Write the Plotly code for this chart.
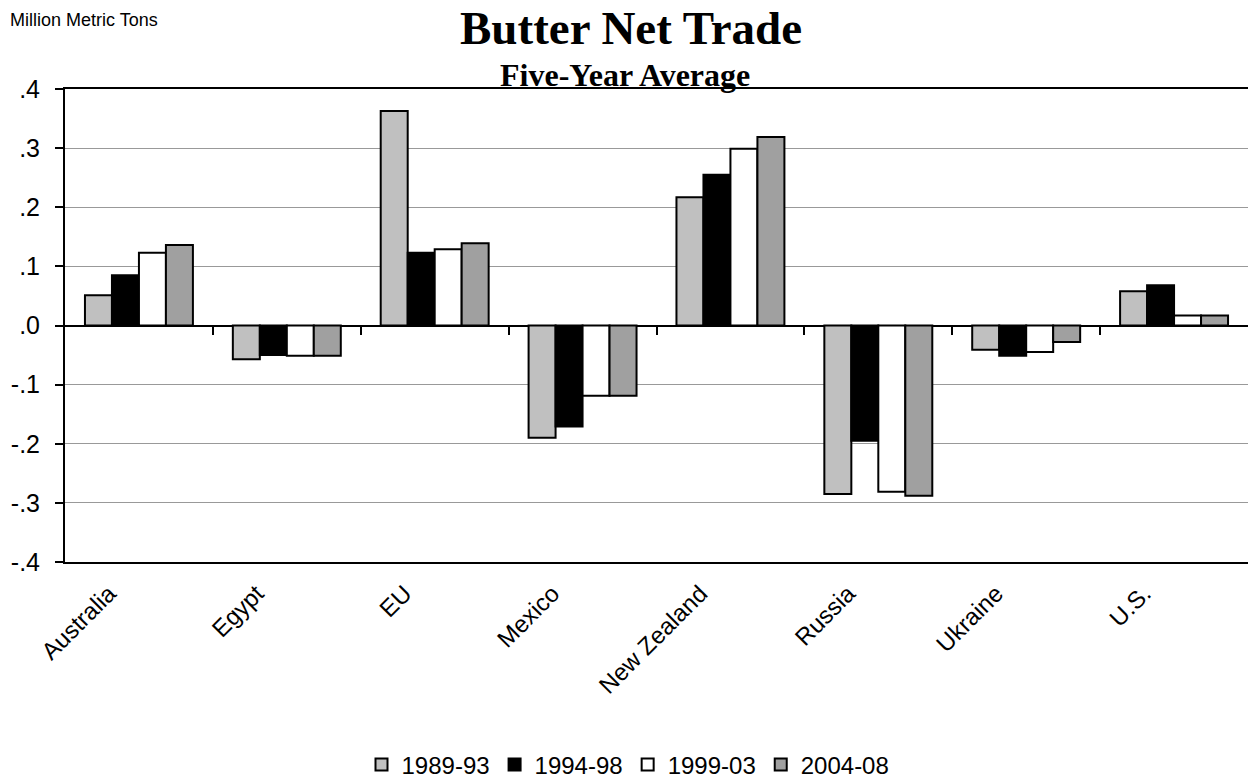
import plotly.graph_objects as go

countries = ["Australia", "Egypt", "EU", "Mexico", "New Zealand", "Russia", "Ukraine", "U.S."]
series_names = ["1989-93", "1994-98", "1999-03", "2004-08"]
v_1989_93 = [0.051, -0.057, 0.363, -0.190, 0.217, -0.285, -0.041, 0.058]
v_1994_98 = [0.085, -0.050, 0.123, -0.171, 0.255, -0.195, -0.051, 0.068]
v_1999_03 = [0.123, -0.051, 0.129, -0.119, 0.299, -0.281, -0.045, 0.017]
v_2004_08 = [0.136, -0.051, 0.139, -0.119, 0.319, -0.288, -0.028, 0.017]
y_tickvals = [0.4, 0.3, 0.2, 0.1, 0.0, -0.1, -0.2, -0.3, -0.4]
y_ticktext = [".4", ".3", ".2", ".1", ".0", "-.1", "-.2", "-.3", "-.4"]
boundary_ticks = [0.5, 1.5, 2.5, 3.5, 4.5, 5.5, 6.5]

colors = ["#C0C0C0", "#000000", "#FFFFFF", "#A0A0A0"]
all_values = [v_1989_93, v_1994_98, v_1999_03, v_2004_08]

W, H = 1258, 784
ML, MR, MT, MB = 65, 10, 89, 222
plot_w = W - ML - MR
plot_h = H - MT - MB

fig = go.Figure()
for name, vals, col in zip(series_names, all_values, colors):
    fig.add_trace(go.Bar(
        x=countries, y=vals, name=name,
        marker=dict(color=col, line=dict(color="#000000", width=2)),
    ))

# dummy trace on xaxis2 so the category-boundary tick axis renders
fig.add_trace(go.Scatter(x=[0], y=[0], xaxis="x2", mode="markers",
                         marker=dict(opacity=0), showlegend=False, hoverinfo="skip"))

fig.update_layout(
    width=W, height=H,
    margin=dict(l=ML, r=MR, t=MT, b=MB, autoexpand=False),
    paper_bgcolor="white", plot_bgcolor="white",
    barmode="group", bargap=0.27, bargroupgap=0,
    font=dict(family="Liberation Sans, Arial, sans-serif", color="black"),
    showlegend=True,
    legend=dict(orientation="h", x=(628 - ML) / plot_w, xanchor="center",
                y=-(765 - (H - MB)) / plot_h, yanchor="middle",
                font=dict(size=24, family="Liberation Sans, Arial, sans-serif"),
                itemwidth=30, tracegroupgap=0),
    xaxis=dict(
        type="category", categoryarray=countries, range=[-0.5, 7.5],
        showline=True, linecolor="black", linewidth=2, mirror=True,
        ticks="", tickangle=-45, tickfont=dict(size=24),
        ticklabelshift=-30, ticklabelstandoff=6,
        showgrid=False, zeroline=False,
    ),
    xaxis2=dict(
        overlaying="x", anchor="free", position=0.5, range=[-0.5, 7.5],
        tickvals=boundary_ticks, ticks="outside", ticklen=8, tickwidth=2, tickcolor="black",
        showticklabels=False, showline=False, showgrid=False, zeroline=False,
    ),
    yaxis=dict(
        range=[-0.4, 0.4], tickvals=y_tickvals, ticktext=y_ticktext,
        showline=True, linecolor="black", linewidth=2,
        ticks="outside", ticklen=8, tickwidth=2, tickcolor="black",
        tickfont=dict(size=25), ticklabelstandoff=10,
        showgrid=True, gridcolor="#999999", gridwidth=1,
        zeroline=True, zerolinecolor="black", zerolinewidth=2,
    ),
    annotations=[
        dict(text="<b>Butter Net Trade</b>", xref="paper", yref="paper",
             x=(631 - ML) / plot_w, y=1 + (MT - 28) / plot_h, yanchor="middle",
             showarrow=False, font=dict(family="Liberation Serif, Times New Roman, serif", size=47)),
        dict(text="<b>Five-Year Average</b>", xref="paper", yref="paper",
             x=(625 - ML) / plot_w, y=1 + (MT - 75) / plot_h, yanchor="middle",
             showarrow=False, font=dict(family="Liberation Serif, Times New Roman, serif", size=32)),
        dict(text="Million Metric Tons", xref="paper", yref="paper",
             x=-(ML - 8) / plot_w, xanchor="left", y=1 + (MT - 20) / plot_h, yanchor="middle",
             showarrow=False, font=dict(size=18)),
    ],
)

fig.write_html("out.html", config={"displayModeBar": False},
               post_script="document.body.style.margin='0';")
